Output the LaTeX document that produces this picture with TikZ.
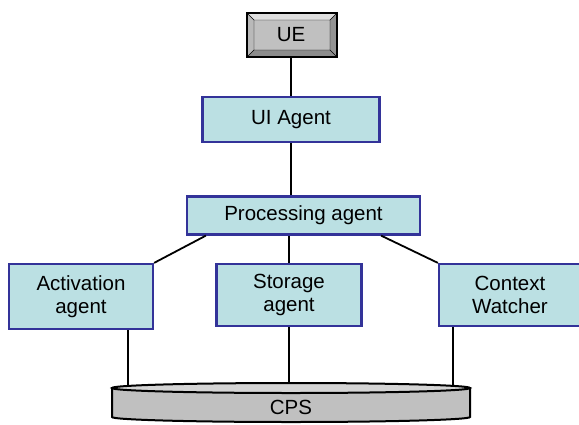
\documentclass[tikz,border=0pt]{standalone}
\usepackage{fontspec}
\setmainfont{Liberation Sans}
\definecolor{agentfill}{RGB}{187,224,227}
\definecolor{agentblue}{RGB}{51,51,153}
\definecolor{uegray}{RGB}{192,192,192}
\definecolor{cpstopgray}{RGB}{212,212,212}

\begin{document}
\begin{tikzpicture}[x=1pt,y=-1pt,
	agentbox/.style={draw=agentblue, line width=2.2pt, fill=agentfill, align=center, inner sep=0pt, font=\fontsize{20.5}{23}\selectfont},
	link/.style={black, line width=1.8pt}]
			\useasboundingbox (0,0) rectangle (579,424);
			\fill[uegray] (247,13) rectangle (337,57);
			\fill[gray!25] (247,13) -- (337,13) -- (330,20) -- (254,20) -- cycle;
			\fill[gray!55] (247,13) -- (254,20) -- (254,50) -- (247,57) -- cycle;
			\fill[gray!85] (337,13) -- (337,57) -- (330,50) -- (330,20) -- cycle;
			\fill[gray!110!black] (247,57) -- (337,57) -- (330,50) -- (254,50) -- cycle;
			\draw[black, thin] (254,20) rectangle (330,50) (247,13) -- (254,20) (337,13) -- (330,20) (247,57) -- (254,50) (337,57) -- (330,50);
			\draw[black, line width=2pt] (247,13) rectangle (337,57);
			\node[minimum width=90pt, minimum height=44pt, inner sep=0pt, font=\fontsize{20.5}{23}\selectfont] (ue) at (291,35) {UE};
			\node[agentbox, minimum width=177pt, minimum height=45pt] (ui) at (291,119.5) {UI Agent};
			\node[agentbox, minimum width=233pt, minimum height=38pt] (proc) at (303.5,215.5) {Processing agent};
			\node[agentbox, minimum width=144pt, minimum height=65pt] (act) at (81,296.5) {Activation\\agent};
			\node[agentbox, minimum width=145pt, minimum height=62pt] (store) at (289,295) {Storage\\agent};
			\node[agentbox, minimum width=142pt, minimum height=62pt] (ctx) at (510,295) {Context\\Watcher};
			\coordinate (cpstop) at (291,386);
			\draw[link] (ue.south) -- (ue.south |- ui.north);
			\draw[link] (ui.south) -- (ui.south |- proc.north);
			\draw[link] (store.north |- proc.south) -- (store.north);
			\draw[link] ([xshift=20pt]proc.south west) -- (act.north east);
			\draw[link] ([xshift=-40pt]proc.south east) -- (ctx.north west);
			\draw[link] ([xshift=47pt]act.south) -- ([xshift=47pt]act.south |- cpstop);
			\draw[link] (store.south) -- (store.south |- cpstop);
			\draw[link] ([xshift=-57pt]ctx.south) -- ([xshift=-57pt]ctx.south |- cpstop);
			\draw[black, line width=2pt, fill=uegray] (112,388) -- (112,417) arc[start angle=180, end angle=0, x radius=179, y radius=5] -- (470,388) -- cycle;
			\draw[black, line width=2pt, fill=cpstopgray] (291,388) ellipse[x radius=179, y radius=5];
			\node[font=\fontsize{20.5}{23}\selectfont] (cps) at (291,407) {CPS};
			\end{tikzpicture}
\end{document}
